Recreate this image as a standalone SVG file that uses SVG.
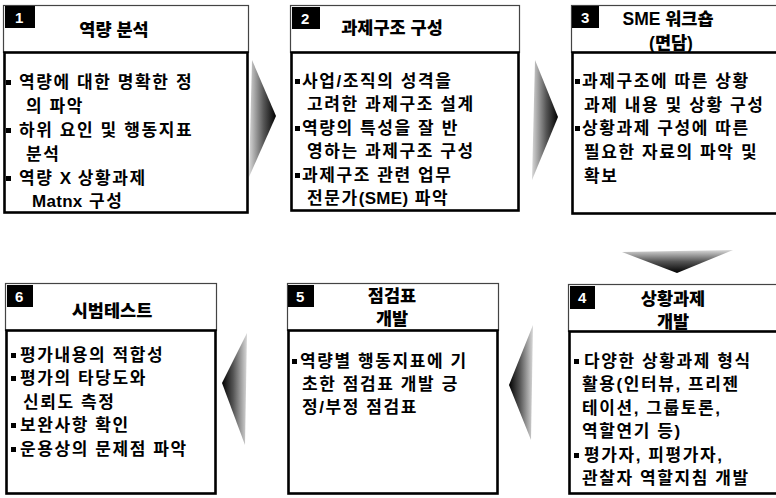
<svg xmlns="http://www.w3.org/2000/svg" width="776" height="498" viewBox="0 0 776 498">
<defs>
<linearGradient id="gR" x1="0" y1="0" x2="1" y2="0"><stop offset="0" stop-color="#d8d8d8"/><stop offset="0.55" stop-color="#555"/><stop offset="1" stop-color="#000"/></linearGradient>
<linearGradient id="gL" x1="1" y1="0" x2="0" y2="0"><stop offset="0" stop-color="#d8d8d8"/><stop offset="0.55" stop-color="#555"/><stop offset="1" stop-color="#000"/></linearGradient>
<linearGradient id="gD" x1="0" y1="0" x2="0" y2="1"><stop offset="0" stop-color="#d8d8d8"/><stop offset="0.5" stop-color="#555"/><stop offset="1" stop-color="#000"/></linearGradient>
</defs>
<style>
.hd{fill:#fff;stroke:#444;stroke-width:1.2}
.bd{fill:#fff;stroke:#000;stroke-width:2.6}
.bg{fill:#000}
.num{font-family:"Liberation Sans",Arial,sans-serif;font-weight:bold;font-size:15px;fill:#fff}
.tt{font-family:"Liberation Sans","Noto Sans CJK KR",sans-serif;font-weight:900;font-size:17.5px;fill:#000;text-anchor:middle}
.tx{font-family:"Liberation Sans","Noto Sans CJK KR",sans-serif;font-weight:600;font-size:17px;letter-spacing:1.6px;fill:#000}
.la{letter-spacing:0.3px}
.bl{fill:#000}
</style>
<g id="connectors">
<polygon points="252,60 276,116 249,177" fill="url(#gR)"/>
<polygon points="535,60 558,117 532,180" fill="url(#gR)"/>
<polygon points="622,252 733,250 677,273" fill="url(#gD)"/>
<polygon points="533,325 509,385 531,440" fill="url(#gL)"/>
<polygon points="247,333 222,383 245,445" fill="url(#gL)"/>
</g>
<g id="node1">
<rect class="hd" x="3.5" y="5.5" width="245" height="47"/>
<rect class="bd" x="4.5" y="52.5" width="243" height="160"/>
<rect class="bg" x="5" y="6" width="30" height="22"/>
<text class="num" x="15" y="23">1</text>
<text class="tt" x="114" y="36">역량 분석</text>
<rect class="bl" x="6" y="80" width="5" height="5"/>
<text class="tx" x="19" y="88">역량에 대한 명확한 정</text>
<text class="tx" x="26" y="112">의 파악</text>
<rect class="bl" x="6" y="128" width="5" height="5"/>
<text class="tx" x="19" y="136">하위 요인 및 행동지표</text>
<text class="tx" x="26" y="160">분석</text>
<rect class="bl" x="6" y="176" width="5" height="5"/>
<text class="tx" x="19" y="184">역량 <tspan class="la">X</tspan> 상황과제</text>
<text class="tx" x="32" y="207"><tspan class="la">Matnx</tspan> 구성</text>
</g>
<g id="node2">
<rect class="hd" x="290.5" y="5.5" width="229" height="47"/>
<rect class="bd" x="291.5" y="52.5" width="227" height="158"/>
<rect class="bg" x="292" y="7" width="28" height="22"/>
<text class="num" x="301" y="24">2</text>
<text class="tt" x="392" y="34">과제구조 구성</text>
<rect class="bl" x="295" y="79" width="5" height="5"/>
<text class="tx" x="302" y="87">사업/조직의 성격을</text>
<text class="tx" x="307" y="110">고려한 과제구조 설계</text>
<rect class="bl" x="295" y="126" width="5" height="5"/>
<text class="tx" x="302" y="134">역량의 특성을 잘 반</text>
<text class="tx" x="307" y="157">영하는 과제구조 구성</text>
<rect class="bl" x="295" y="173" width="5" height="5"/>
<text class="tx" x="302" y="181">과제구조 관련 업무</text>
<text class="tx" x="307" y="204">전문가<tspan class="la">(SME)</tspan> 파악</text>
</g>
<g id="node3">
<rect class="hd" x="571.5" y="5.5" width="210" height="47"/>
<rect class="bd" x="572.5" y="52.5" width="210" height="161"/>
<rect class="bg" x="572" y="6" width="27" height="22"/>
<text class="num" x="581" y="23">3</text>
<text class="tt" x="668" y="25">SME 워크숍</text>
<text class="tt" x="671" y="49">(면담)</text>
<rect class="bl" x="575" y="79" width="5" height="5"/>
<text class="tx" x="582" y="87">과제구조에 따른 상황</text>
<text class="tx" x="584" y="111">과제 내용 및 상황 구성</text>
<rect class="bl" x="575" y="126" width="5" height="5"/>
<text class="tx" x="582" y="134">상황과제 구성에 따른</text>
<text class="tx" x="584" y="158">필요한 자료의 파악 및</text>
<text class="tx" x="584" y="182">확보</text>
</g>
<g id="node4">
<rect class="hd" x="568.5" y="284.5" width="213" height="47"/>
<rect class="bd" x="569.5" y="331.5" width="213" height="162"/>
<rect class="bg" x="570" y="286" width="25" height="23"/>
<text class="num" x="578" y="303">4</text>
<text class="tt" x="673" y="305">상황과제</text>
<text class="tt" x="673" y="328">개발</text>
<rect class="bl" x="574" y="359" width="5" height="5"/>
<text class="tx" x="584" y="367">다양한 상황과제 형식</text>
<text class="tx" x="582" y="390">활용(인터뷰, 프리젠</text>
<text class="tx" x="582" y="414">테이션, 그룹토론,</text>
<text class="tx" x="582" y="437">역할연기 등)</text>
<rect class="bl" x="574" y="453" width="5" height="5"/>
<text class="tx" x="584" y="461">평가자, 피평가자,</text>
<text class="tx" x="582" y="484">관찰자 역할지침 개발</text>
</g>
<g id="node5">
<rect class="hd" x="287.5" y="283.5" width="211" height="47"/>
<rect class="bd" x="288.5" y="330.5" width="209" height="163"/>
<rect class="bg" x="288" y="285" width="26" height="22"/>
<text class="num" x="296" y="302">5</text>
<text class="tt" x="392" y="302">점검표</text>
<text class="tt" x="392" y="325">개발</text>
<rect class="bl" x="292" y="359" width="5" height="5"/>
<text class="tx" x="300" y="367">역량별 행동지표에 기</text>
<text class="tx" x="302" y="390">초한 점검표 개발 긍</text>
<text class="tx" x="302" y="413">정/부정 점검표</text>
</g>
<g id="node6">
<rect class="hd" x="5.5" y="283.5" width="211" height="47"/>
<rect class="bd" x="6.5" y="330.5" width="209" height="163"/>
<rect class="bg" x="7" y="285" width="26" height="22"/>
<text class="num" x="15" y="302">6</text>
<text class="tt" x="112" y="317">시범테스트</text>
<rect class="bl" x="11" y="353" width="5" height="5"/>
<text class="tx" x="20" y="361">평가내용의 적합성</text>
<rect class="bl" x="11" y="376" width="5" height="5"/>
<text class="tx" x="20" y="384">평가의 타당도와</text>
<text class="tx" x="23" y="408">신뢰도 측정</text>
<rect class="bl" x="11" y="423" width="5" height="5"/>
<text class="tx" x="20" y="431">보완사항 확인</text>
<rect class="bl" x="11" y="447" width="5" height="5"/>
<text class="tx" x="20" y="455">운용상의 문제점 파악</text>
</g>
</svg>
